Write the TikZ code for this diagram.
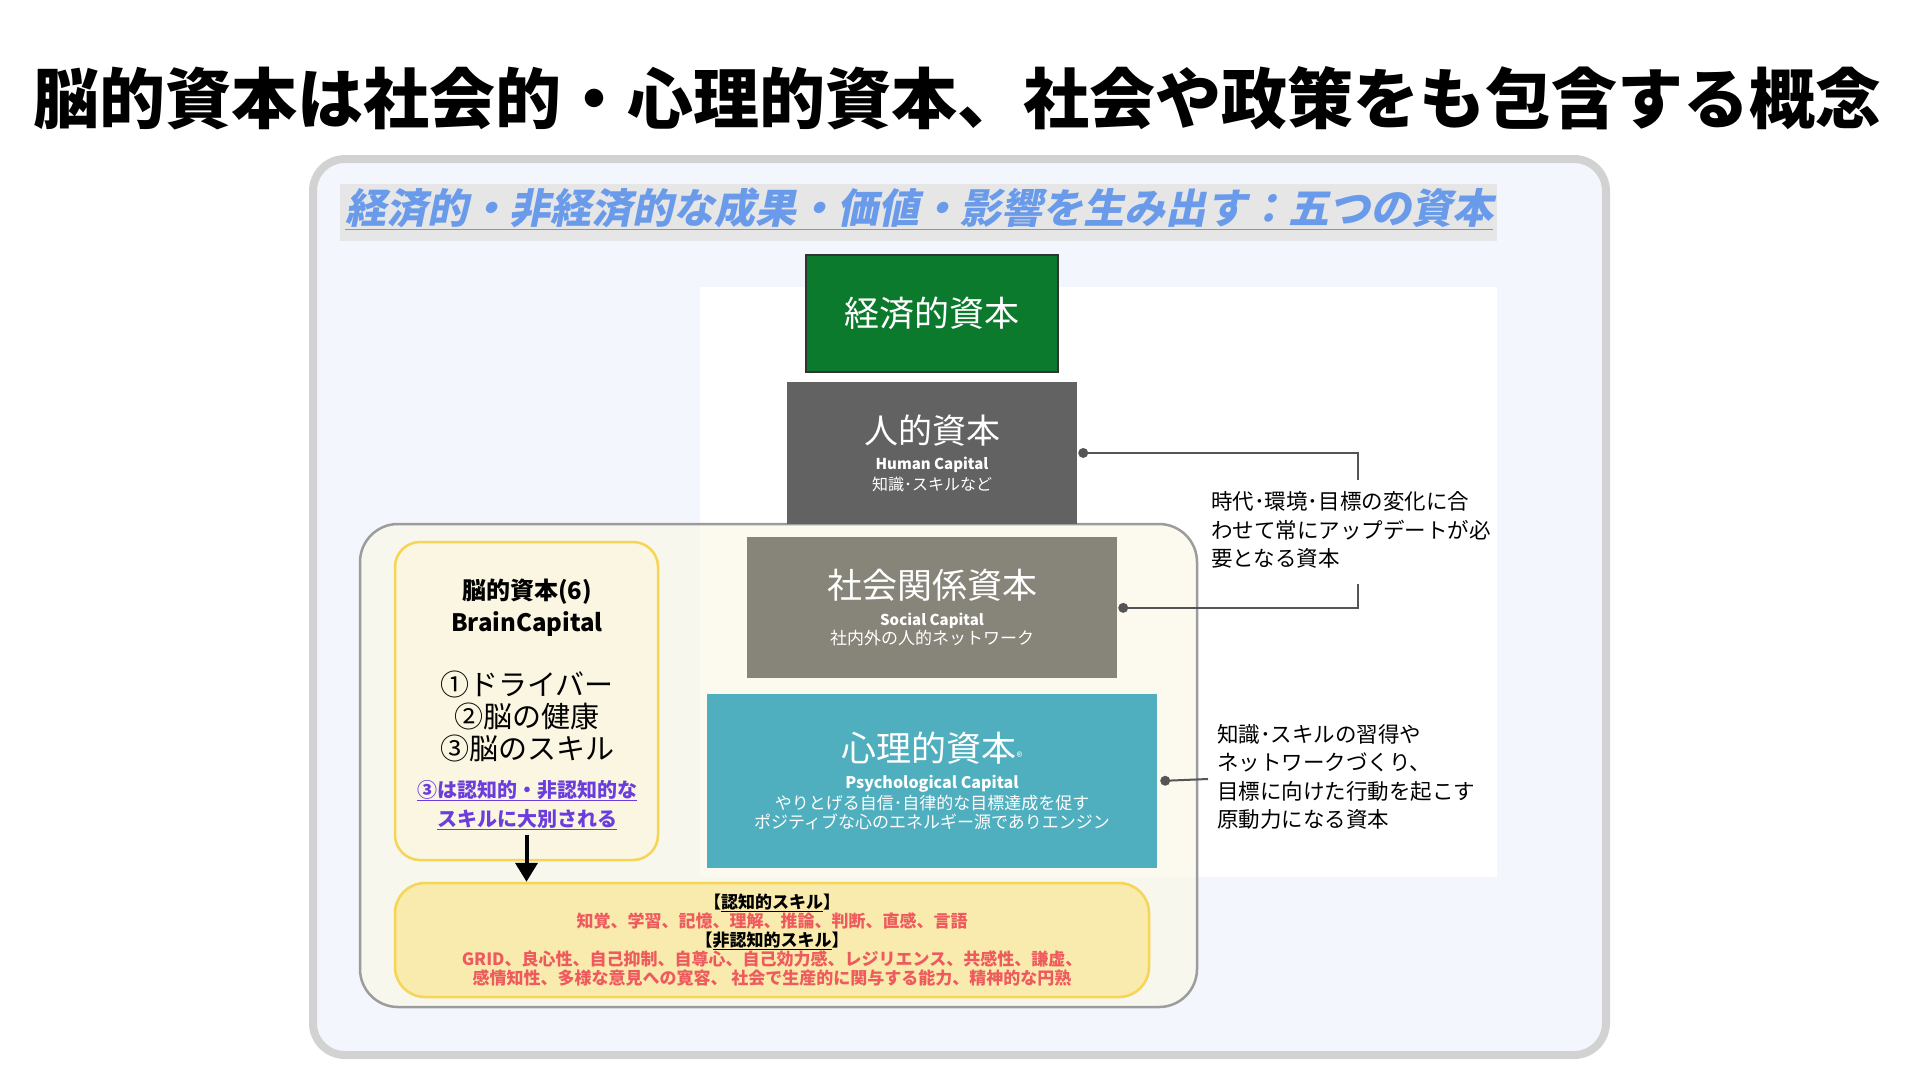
\documentclass[tikz,border=0pt]{standalone}
\usepackage{fontspec}
\setmainfont{Noto Sans CJK JP}
\newfontfamily\slantjp[FakeSlant=0.2]{Noto Sans CJK JP}
\usetikzlibrary{arrows.meta, positioning}

\definecolor{framegray}{HTML}{D2D2D2}
\definecolor{panelblue}{HTML}{F3F7FD}
\definecolor{bandgray}{HTML}{E6E6E6}
\definecolor{subblue}{HTML}{6A9BEA}
\definecolor{beigefill}{HTML}{FBF7E0}
\definecolor{beigeedge}{HTML}{9C9C9C}
\definecolor{econgreen}{HTML}{0C7A2C}
\definecolor{humangray}{HTML}{626262}
\definecolor{socialgray}{HTML}{878479}
\definecolor{psychteal}{HTML}{50AFBE}
\definecolor{linkgray}{HTML}{555555}
\definecolor{goldedge}{HTML}{F6D454}
\definecolor{creamfill}{HTML}{FBF6E1}
\definecolor{skillfill}{HTML}{F9EBAE}
\definecolor{notepurple}{HTML}{6B3DDD}
\definecolor{skillred}{HTML}{EE5B5E}

\newcommand{\fsz}[2]{\fontsize{#1}{#2}\selectfont}

\begin{document}
\begin{tikzpicture}[
  x=1pt, y=-1pt,
  capbox/.style={rectangle, text=white, align=center, inner sep=0pt},
  dot/.style={circle, fill=linkgray, inner sep=0pt, minimum size=10pt},
  link/.style={draw=linkgray, line width=2pt},
  note/.style={anchor=west, align=left, inner sep=0pt, font=\fsz{21.5}{28.5}},
  softbox/.style={rectangle, draw=goldedge, fill=creamfill, line width=2.5pt, rounded corners=25pt, align=center, inner sep=0pt}
]
\fill[white] (0,0) rectangle (1920,1080);
\useasboundingbox (0,0) rectangle (1920,1080);

\node (title) at (958,98) {\fsz{66}{66}\bfseries 脳的資本は社会的・心理的資本、社会や政策をも包含する概念};

% panels
\draw[draw=framegray, line width=8pt, fill=panelblue, rounded corners=32pt] (313,159) rectangle (1606,1055);
\fill[bandgray] (340,184) rectangle (1497,241);
\node (subtitle) at (919,209) {\slantjp\bfseries\fsz{41}{41}\color{subblue}\underline{経済的・非経済的な成果・価値・影響を生み出す：五つの資本}};
\fill[white] (700,287) rectangle (1497,877);
\draw[draw=beigeedge, line width=2.5pt, fill=beigefill, fill opacity=0.5, rounded corners=38pt] (360,524) rectangle (1197,1007);

% capitals
\node (econ) [capbox, draw=black!80, line width=1.5pt, fill=econgreen, minimum width=252pt, minimum height=117pt, font=\fsz{35}{35}] at (932,313.5) {経済的資本};
\node (human) [capbox, fill=humangray, minimum width=290pt, minimum height=142pt, below=9pt of econ, font=\fsz{16}{21}] {\fsz{34}{34}人的資本\\[5pt]\fsz{15}{21}\bfseries Human Capital\\知識･スキルなど};
\node (social) [capbox, fill=socialgray, minimum width=370pt, minimum height=141pt, below=13pt of human, font=\fsz{17}{19}] {\fsz{35}{35}社会関係資本\\[8pt]\fsz{15}{19}\bfseries Social Capital\\社内外の人的ネットワーク};
\node (psych) [capbox, fill=psychteal, minimum width=450pt, minimum height=174pt, below=15pt of social, font=\fsz{17}{19}] {\fsz{35}{35}心理的資本{\fsz{12}{12}®}\\[8pt]\fsz{16}{19}\bfseries Psychological Capital\\[2pt]やりとげる自信･自律的な目標達成を促す\\ポジティブな心のエネルギー源でありエンジン};

% brackets
\node (hdot) [dot] at ([xshift=6pt]human.east) {};
\node (sdot) [dot] at ([xshift=6pt]social.east) {};
\node (pdot) [dot] at ([xshift=8pt]psych.east) {};
\coordinate (brkA) at (1358,480);
\coordinate (brkB) at (1358,584);
\coordinate (pend) at (1208,779);
\draw[link] (hdot.center) -| (brkA);
\draw[link] (sdot.center) -| (brkB);
\draw[link] (pdot.center) -- (pend);

\node (noteupd) [note] at (1211,530) {時代･環境･目標の変化に合\\わせて常にアップデートが必\\要となる資本};
\node (notepsy) [note] at (1217,777) {知識･スキルの習得や\\ネットワークづくり、\\目標に向けた行動を起こす\\原動力になる資本};

% brain capital
\node (brain) [softbox, minimum width=263pt, minimum height=318pt] at (526.5,701) {};
\node (bcname) [align=center, inner sep=0pt, font=\fsz{24}{32}\bfseries] at (527,608) {脳的資本(6)\\BrainCapital};
\node (bclist) [align=center, inner sep=0pt, font=\fsz{29}{32}] at (527,716) {①ドライバー\\②脳の健康\\③脳のスキル};
\node (bcnote) [align=center, inner sep=0pt, text=notepurple, font=\fsz{20}{29}\bfseries] at (527,805) {\underline{③は認知的・非認知的な}\\\underline{スキルに大別される}};

\node (skills) [softbox, fill=skillfill, rounded corners=30pt, minimum width=754pt, minimum height=114pt, font=\fsz{17}{19}\bfseries] at (772,940) {【\underline{認知的スキル}】\\
\textcolor{skillred}{知覚、学習、記憶、理解、推論、判断、直感、言語}\\
【\underline{非認知的スキル}】\\
\textcolor{skillred}{GRID、良心性、自己抑制、自尊心、自己効力感、レジリエンス、共感性、謙虚、}\\
\textcolor{skillred}{感情知性、多様な意見への寛容、 社会で生産的に関与する能力、精神的な円熟}};

\draw[-{Triangle[length=19pt,width=22pt]}, line width=4pt] ([yshift=26pt]brain.south) -- (brain.south |- skills.north);

\end{tikzpicture}
\end{document}
